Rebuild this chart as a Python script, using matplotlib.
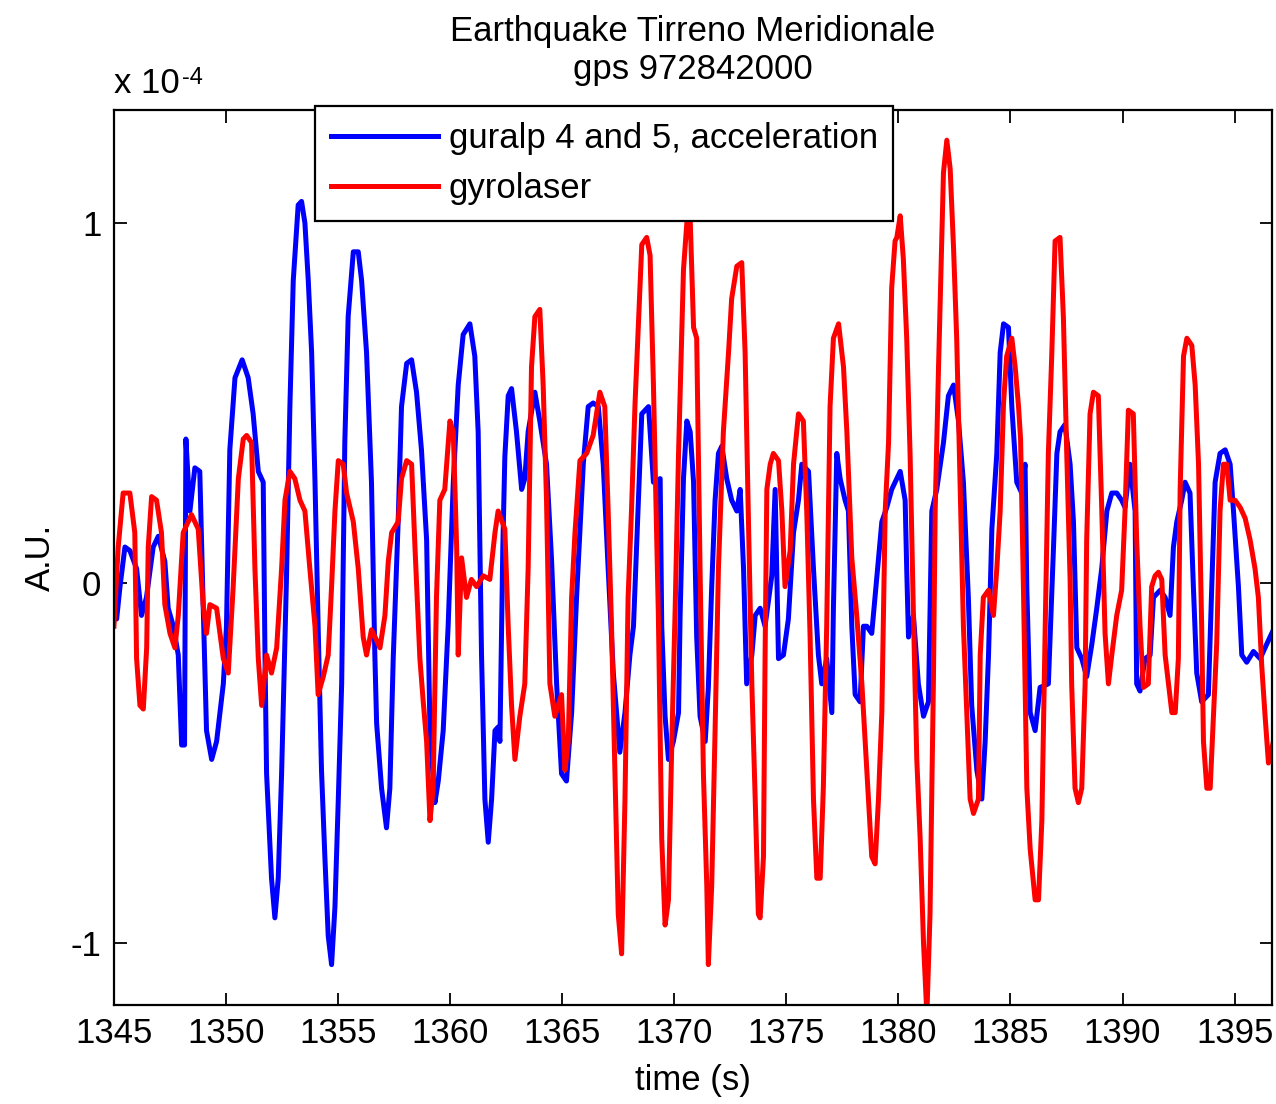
import matplotlib
matplotlib.use("Agg")
import matplotlib.pyplot as plt
from matplotlib import font_manager

# ---------------- data (units of 1e-4) ----------------
guralp_t = [1345.00, 1345.12, 1345.27, 1345.49, 1345.71, 1346.01, 1346.23, 1346.45, 1346.75, 1346.98,
            1347.27, 1347.42, 1347.65, 1347.87, 1348.02, 1348.15, 1348.21, 1348.39, 1348.61, 1348.83,
            1348.98, 1349.13, 1349.36, 1349.58, 1349.88, 1350.02, 1350.17, 1350.40, 1350.72, 1350.99,
            1351.21, 1351.44, 1351.66, 1351.74, 1351.81, 1352.03, 1352.18, 1352.33, 1352.48, 1352.70,
            1352.85, 1353.00, 1353.22, 1353.37, 1353.52, 1353.67, 1353.82, 1353.97, 1354.11, 1354.26,
            1354.41, 1354.56, 1354.71, 1354.86, 1355.01, 1355.16, 1355.30, 1355.45, 1355.68, 1355.90,
            1356.05, 1356.27, 1356.49, 1356.64, 1356.72, 1356.94, 1357.16, 1357.31, 1357.46, 1357.68,
            1357.83, 1358.06, 1358.28, 1358.50, 1358.72, 1358.95, 1359.10, 1359.32, 1359.47, 1359.69,
            1359.91, 1360.14, 1360.36, 1360.58, 1360.88, 1361.10, 1361.25, 1361.40, 1361.55, 1361.70,
            1361.85, 1362.00, 1362.14, 1362.22, 1362.35, 1362.44, 1362.59, 1362.74, 1362.96, 1363.19,
            1363.33, 1363.48, 1363.78, 1364.00, 1364.30, 1364.52, 1364.75, 1364.97, 1365.19, 1365.42,
            1365.64, 1365.94, 1366.16, 1366.38, 1366.61, 1366.83, 1367.05, 1367.28, 1367.57, 1367.80,
            1368.02, 1368.18, 1368.33, 1368.55, 1368.85, 1369.07, 1369.37, 1369.44, 1369.59, 1369.74,
            1369.96, 1370.19, 1370.26, 1370.41, 1370.56, 1370.71, 1370.86, 1371.00, 1371.15, 1371.38,
            1371.52, 1371.67, 1371.82, 1371.97, 1372.12, 1372.34, 1372.56, 1372.79, 1372.94, 1373.09,
            1373.23, 1373.46, 1373.61, 1373.83, 1374.05, 1374.35, 1374.50, 1374.65, 1374.87, 1375.09,
            1375.32, 1375.54, 1375.69, 1375.99, 1376.21, 1376.43, 1376.58, 1376.80, 1377.03, 1377.10,
            1377.25, 1377.40, 1377.62, 1377.77, 1377.92, 1378.07, 1378.29, 1378.44, 1378.59, 1378.81,
            1379.03, 1379.26, 1379.48, 1379.70, 1379.85, 1380.08, 1380.30, 1380.37, 1380.45, 1380.67,
            1380.89, 1381.12, 1381.34, 1381.49, 1381.71, 1382.01, 1382.23, 1382.46, 1382.68, 1382.90,
            1383.12, 1383.27, 1383.50, 1383.72, 1383.87, 1384.02, 1384.17, 1384.39, 1384.54, 1384.69,
            1384.91, 1385.06, 1385.28, 1385.50, 1385.65, 1385.73, 1385.88, 1386.10, 1386.32, 1386.69,
            1386.92, 1387.07, 1387.21, 1387.43, 1387.66, 1387.81, 1387.96, 1388.18, 1388.40, 1388.63,
            1388.85, 1389.07, 1389.30, 1389.52, 1389.74, 1389.96, 1390.11, 1390.33, 1390.56, 1390.63,
            1390.78, 1391.00, 1391.23, 1391.38, 1391.68, 1391.90, 1392.12, 1392.27, 1392.42, 1392.64,
            1392.79, 1393.01, 1393.16, 1393.31, 1393.53, 1393.83, 1393.98, 1394.13, 1394.35, 1394.58,
            1394.80, 1394.95, 1395.17, 1395.32, 1395.54, 1395.84, 1396.14, 1396.43, 1396.73]
guralp_v = [-0.05, -0.10, -0.01, 0.10, 0.09, 0.04, -0.09, -0.04, 0.10, 0.13,
            0.06, -0.07, -0.12, -0.20, -0.45, -0.45, 0.40, 0.20, 0.32, 0.31,
            -0.06, -0.41, -0.49, -0.44, -0.28, -0.12, 0.37, 0.57, 0.62, 0.57,
            0.47, 0.31, 0.28, -0.21, -0.53, -0.82, -0.93, -0.82, -0.53, 0.02,
            0.49, 0.84, 1.05, 1.06, 1.00, 0.84, 0.64, 0.28, -0.12, -0.52,
            -0.76, -0.98, -1.06, -0.90, -0.60, -0.28, 0.39, 0.74, 0.92, 0.92,
            0.84, 0.64, 0.28, -0.20, -0.39, -0.57, -0.68, -0.57, -0.21, 0.17,
            0.49, 0.61, 0.62, 0.53, 0.37, 0.12, -0.41, -0.61, -0.55, -0.41,
            -0.12, 0.28, 0.55, 0.69, 0.72, 0.63, 0.42, -0.20, -0.60, -0.72,
            -0.60, -0.41, -0.40, -0.44, 0.10, 0.35, 0.52, 0.54, 0.42, 0.26,
            0.29, 0.42, 0.53, 0.45, 0.33, 0.07, -0.28, -0.53, -0.55, -0.36,
            -0.04, 0.33, 0.49, 0.50, 0.49, 0.33, 0.04, -0.25, -0.47, -0.36,
            -0.20, -0.12, 0.12, 0.47, 0.49, 0.28, 0.29, -0.12, -0.37, -0.49,
            -0.44, -0.36, -0.09, 0.29, 0.45, 0.42, 0.28, -0.15, -0.37, -0.44,
            -0.29, -0.01, 0.23, 0.36, 0.38, 0.29, 0.23, 0.20, 0.26, 0.04,
            -0.28, -0.20, -0.09, -0.07, -0.12, 0.02, 0.26, -0.21, -0.20, -0.10,
            0.14, 0.23, 0.33, 0.31, 0.04, -0.20, -0.28, -0.21, -0.36, -0.07,
            0.36, 0.29, 0.23, 0.20, -0.12, -0.31, -0.33, -0.12, -0.12, -0.14,
            0.01, 0.17, 0.21, 0.26, 0.28, 0.31, 0.23, 0.04, -0.15, -0.09,
            -0.28, -0.37, -0.33, 0.20, 0.26, 0.39, 0.52, 0.55, 0.45, 0.28,
            -0.04, -0.34, -0.52, -0.60, -0.44, -0.20, 0.15, 0.36, 0.64, 0.72,
            0.71, 0.49, 0.28, 0.25, 0.33, -0.02, -0.36, -0.41, -0.29, -0.28,
            0.10, 0.36, 0.42, 0.44, 0.33, 0.17, -0.18, -0.21, -0.26, -0.17,
            -0.07, 0.04, 0.20, 0.25, 0.25, 0.23, 0.21, 0.33, 0.20, -0.28,
            -0.30, -0.21, -0.20, -0.04, -0.02, -0.04, -0.09, 0.10, 0.17, 0.23,
            0.28, 0.25, -0.01, -0.25, -0.33, -0.31, -0.01, 0.28, 0.36, 0.37,
            0.33, 0.20, -0.01, -0.20, -0.22, -0.19, -0.21, -0.17, -0.13]

gyro_t = [1345.00, 1345.19, 1345.41, 1345.71, 1345.93, 1346.01, 1346.16, 1346.31, 1346.46, 1346.53,
          1346.68, 1346.90, 1347.12, 1347.27, 1347.50, 1347.72, 1347.87, 1348.09, 1348.46, 1348.76,
          1348.98, 1349.13, 1349.28, 1349.58, 1349.88, 1350.10, 1350.32, 1350.55, 1350.77, 1350.92,
          1351.14, 1351.29, 1351.44, 1351.59, 1351.81, 1352.03, 1352.26, 1352.48, 1352.63, 1352.85,
          1353.07, 1353.30, 1353.52, 1353.74, 1353.97, 1354.11, 1354.34, 1354.56, 1354.71, 1354.86,
          1355.01, 1355.23, 1355.38, 1355.68, 1355.90, 1356.12, 1356.27, 1356.49, 1356.65, 1356.87,
          1357.09, 1357.24, 1357.39, 1357.68, 1357.83, 1358.06, 1358.28, 1358.43, 1358.65, 1358.80,
          1358.95, 1359.10, 1359.24, 1359.39, 1359.54, 1359.76, 1359.99, 1360.14, 1360.29, 1360.36,
          1360.51, 1360.73, 1360.95, 1361.18, 1361.48, 1361.77, 1362.00, 1362.14, 1362.44, 1362.59,
          1362.74, 1362.89, 1363.11, 1363.33, 1363.48, 1363.63, 1363.78, 1364.00, 1364.15, 1364.30,
          1364.45, 1364.67, 1364.97, 1365.12, 1365.27, 1365.42, 1365.57, 1365.79, 1366.09, 1366.38,
          1366.68, 1366.90, 1367.05, 1367.20, 1367.35, 1367.50, 1367.65, 1367.80, 1367.94, 1368.09,
          1368.25, 1368.40, 1368.55, 1368.77, 1368.92, 1369.07, 1369.29, 1369.44, 1369.59, 1369.74,
          1369.89, 1370.04, 1370.19, 1370.41, 1370.56, 1370.71, 1370.86, 1371.00, 1371.15, 1371.30,
          1371.45, 1371.52, 1371.67, 1371.82, 1371.97, 1372.19, 1372.42, 1372.56, 1372.79, 1373.01,
          1373.16, 1373.31, 1373.46, 1373.61, 1373.75, 1373.83, 1373.98, 1374.05, 1374.13, 1374.28,
          1374.42, 1374.65, 1374.80, 1374.94, 1375.17, 1375.32, 1375.54, 1375.76, 1375.91, 1376.06,
          1376.21, 1376.36, 1376.51, 1376.65, 1376.80, 1376.95, 1377.10, 1377.33, 1377.55, 1377.70,
          1377.92, 1378.14, 1378.37, 1378.59, 1378.81, 1378.96, 1379.11, 1379.26, 1379.41, 1379.56,
          1379.70, 1379.85, 1379.93, 1380.08, 1380.22, 1380.37, 1380.52, 1380.67, 1380.82, 1380.97,
          1381.12, 1381.27, 1381.41, 1381.56, 1381.64, 1381.79, 1382.01, 1382.16, 1382.31, 1382.46,
          1382.60, 1382.75, 1382.90, 1383.05, 1383.20, 1383.35, 1383.57, 1383.65, 1383.79, 1384.02,
          1384.24, 1384.39, 1384.54, 1384.69, 1384.83, 1385.06, 1385.21, 1385.36, 1385.45, 1385.58,
          1385.73, 1385.88, 1386.10, 1386.25, 1386.40, 1386.55, 1386.69, 1386.84, 1386.99, 1387.21,
          1387.36, 1387.51, 1387.66, 1387.73, 1387.88, 1388.03, 1388.18, 1388.33, 1388.40, 1388.55,
          1388.70, 1388.92, 1389.07, 1389.22, 1389.37, 1389.52, 1389.74, 1389.96, 1390.11, 1390.26,
          1390.48, 1390.63, 1390.78, 1390.93, 1391.15, 1391.30, 1391.45, 1391.60, 1391.75, 1391.90,
          1392.05, 1392.20, 1392.35, 1392.49, 1392.57, 1392.72, 1392.87, 1393.09, 1393.24, 1393.39,
          1393.53, 1393.61, 1393.76, 1393.91, 1394.06, 1394.20, 1394.35, 1394.50, 1394.65, 1394.80,
          1395.02, 1395.25, 1395.47, 1395.69, 1395.91, 1396.06, 1396.21, 1396.36, 1396.51, 1396.73]
gyro_v = [-0.12, 0.10, 0.25, 0.25, 0.14, -0.21, -0.34, -0.35, -0.18, 0.10,
          0.24, 0.23, 0.14, -0.06, -0.14, -0.18, -0.09, 0.14, 0.19, 0.15,
          -0.06, -0.14, -0.06, -0.07, -0.21, -0.25, -0.01, 0.29, 0.40, 0.41,
          0.39, 0.04, -0.21, -0.34, -0.20, -0.25, -0.18, 0.04, 0.23, 0.31,
          0.29, 0.23, 0.20, 0.04, -0.12, -0.31, -0.26, -0.20, -0.01, 0.20,
          0.34, 0.33, 0.25, 0.17, 0.04, -0.15, -0.20, -0.13, -0.15, -0.18,
          -0.09, 0.06, 0.14, 0.17, 0.29, 0.34, 0.33, 0.10, -0.21, -0.33,
          -0.44, -0.66, -0.57, -0.04, 0.23, 0.26, 0.45, 0.42, 0.10, -0.20,
          0.07, -0.04, 0.01, -0.01, 0.02, 0.01, 0.14, 0.20, 0.15, -0.12,
          -0.34, -0.49, -0.37, -0.28, 0.04, 0.60, 0.74, 0.76, 0.55, 0.23,
          -0.28, -0.37, -0.31, -0.52, -0.44, -0.04, 0.14, 0.34, 0.36, 0.41,
          0.53, 0.49, 0.20, -0.12, -0.52, -0.92, -1.03, -0.60, -0.04, 0.20,
          0.50, 0.72, 0.94, 0.96, 0.91, 0.55, -0.09, -0.71, -0.95, -0.88,
          -0.44, -0.07, 0.36, 0.87, 1.00, 1.01, 0.71, 0.68, 0.04, -0.53,
          -0.84, -1.06, -0.84, -0.41, 0.04, 0.42, 0.64, 0.79, 0.88, 0.89,
          0.64, 0.17, -0.28, -0.60, -0.92, -0.93, -0.76, -0.21, 0.26, 0.33,
          0.36, 0.34, 0.20, -0.01, 0.09, 0.33, 0.47, 0.45, 0.20, -0.15,
          -0.60, -0.82, -0.82, -0.57, -0.12, 0.49, 0.68, 0.72, 0.60, 0.42,
          0.07, -0.09, -0.28, -0.52, -0.76, -0.78, -0.60, -0.36, 0.20, 0.39,
          0.82, 0.95, 0.96, 1.02, 0.90, 0.68, 0.36, -0.09, -0.49, -0.71,
          -1.00, -1.20, -0.92, -0.28, 0.20, 0.60, 1.14, 1.23, 1.15, 0.93,
          0.68, 0.28, -0.12, -0.36, -0.60, -0.64, -0.60, -0.20, -0.04, -0.02,
          -0.09, 0.04, 0.20, 0.50, 0.63, 0.68, 0.60, 0.49, 0.40, -0.02,
          -0.57, -0.74, -0.88, -0.88, -0.66, -0.12, 0.36, 0.63, 0.95, 0.96,
          0.74, 0.36, 0.01, -0.28, -0.57, -0.61, -0.57, -0.28, 0.12, 0.47,
          0.53, 0.52, 0.21, -0.14, -0.28, -0.20, -0.09, -0.02, 0.20, 0.48,
          0.47, 0.12, -0.12, -0.29, -0.28, -0.01, 0.02, 0.03, 0.01, -0.20,
          -0.28, -0.36, -0.36, -0.21, 0.26, 0.63, 0.68, 0.66, 0.55, 0.33,
          -0.12, -0.44, -0.57, -0.57, -0.36, -0.17, 0.20, 0.33, 0.33, 0.23,
          0.23, 0.21, 0.18, 0.12, 0.04, -0.04, -0.23, -0.37, -0.50, -0.44]

series_labels = ["guralp 4 and 5, acceleration", "gyrolaser"]
x_ticks = [1345, 1350, 1355, 1360, 1365, 1370, 1375, 1380, 1385, 1390, 1395]
y_ticks = [-1, 0, 1]
title_lines = ["Earthquake Tirreno Meridionale", "gps 972842000"]

# ---------------- style ----------------
avail = {f.name for f in font_manager.fontManager.ttflist}
fam = [f for f in ["Liberation Sans Narrow", "Liberation Sans", "DejaVu Sans"] if f in avail]
plt.rcParams['font.family'] = fam
FS = 25

fig = plt.figure(figsize=(12.76, 11.04), dpi=100)
ax = fig.add_axes([0.0893, 0.0897, 0.9076, 0.8107])

ax.plot(guralp_t, guralp_v, color=(0, 0, 1), lw=3.6, label=series_labels[0])
ax.plot(gyro_t, gyro_v, color=(1, 0, 0), lw=3.6, label=series_labels[1])

ax.set_xlim(1345, 1396.67)
ax.set_ylim(-1.172, 1.314)
ax.set_xticks(x_ticks)
ax.set_yticks(y_ticks)
ax.set_yticklabels([str(v) for v in y_ticks])
ax.tick_params(direction='in', length=9, width=1.3, top=True, right=True,
               labelsize=FS, pad=9)
for s in ax.spines.values():
    s.set_linewidth(1.6)

ax.set_xlabel("time (s)", fontsize=FS, labelpad=10)
ax.set_ylabel("A.U.", fontsize=FS, labelpad=10)
ax.set_title("\n".join(title_lines), fontsize=FS, pad=22, linespacing=1.2)
t1 = ax.text(0.0, 1.019, "x 10", transform=ax.transAxes, fontsize=FS,
             ha='left', va='baseline')
ax.annotate("-4", xy=(1.0, 1.0), xycoords=t1, xytext=(2, 0), textcoords='offset points',
            fontsize=17, ha='left', va='top')

leg = ax.legend(loc='upper left', bbox_to_anchor=(0.1736, 1.004), borderaxespad=0,
                fontsize=FS, handlelength=3.1, handletextpad=0.3, labelspacing=0.5,
                borderpad=0.45, fancybox=False, framealpha=1, edgecolor='black')
leg.get_frame().set_linewidth(1.6)

fig.savefig("out.png", dpi=100)
